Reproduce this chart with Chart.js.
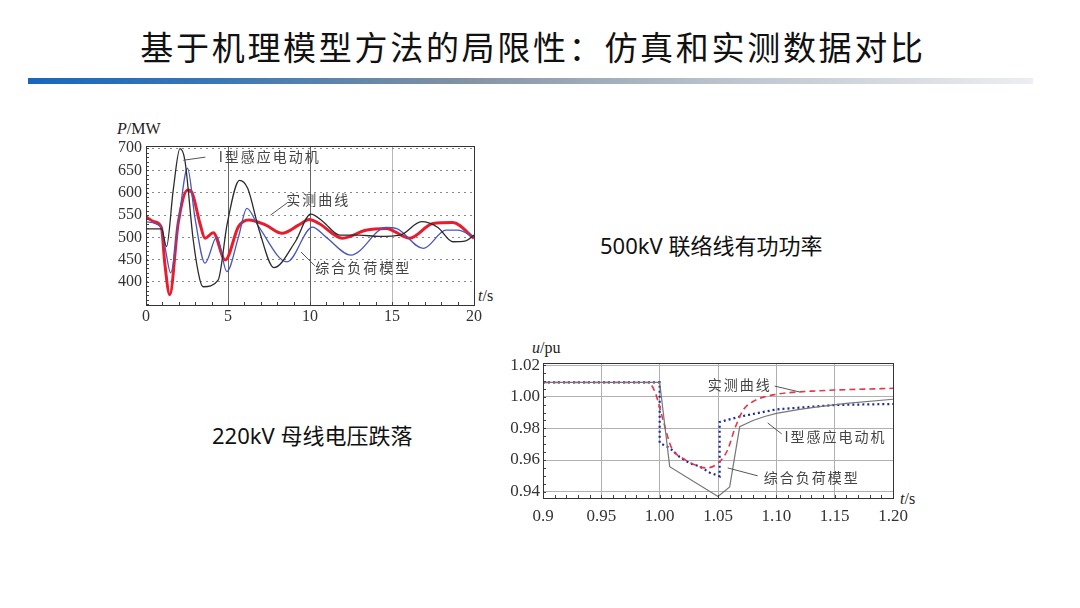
<!DOCTYPE html>
<html>
<head>
<meta charset="utf-8">
<script src="https://cdn.jsdelivr.net/npm/chart.js@4"></script>
<style>
  body { margin: 0; width: 1080px; height: 608px; background: #fff; position: relative; overflow: hidden; }
  .abs { position: absolute; }
  #title { left: 0; width: 1066px; top: 22px; text-align: center; font-family: "Noto Sans CJK SC", sans-serif; font-size: 33px; letter-spacing: 2.7px; color: #111; }
  #bar { left: 28px; top: 78px; width: 1005px; height: 6px;
    background: linear-gradient(to right, #1867bd 0%, #3877b6 18%, #7f90a3 42%, #b9c2cc 68%, #eceef1 100%); }
  .cap { font-family: "Noto Sans", "Noto Sans CJK SC", sans-serif; font-size: 22px; color: #111; }
  .unit { font-family: "Liberation Serif", serif; font-size: 16px; color: #222; }
  .box { position: absolute; }
</style>
</head>
<body>
<div id="title" class="abs">基于机理模型方法的局限性：仿真和实测数据对比</div>
<div id="bar" class="abs"></div>

<div class="abs cap" style="left:600px; top:228px;">500kV 联络线有功功率</div>
<div class="abs cap" style="left:212px; top:418px;">220kV 母线电压跌落</div>

<div class="abs unit" style="left:117px; top:120px;"><i>P</i>/MW</div>
<div class="abs unit" style="left:478px; top:287px;"><i>t</i>/s</div>
<div class="abs unit" style="left:532px; top:339px;"><i>u</i>/pu</div>
<div class="abs unit" style="left:900px; top:490px;"><i>t</i>/s</div>

<div class="box" style="left:100px; top:120px; width:400px; height:210px;"><canvas id="powerChart"></canvas></div>
<div class="box" style="left:495px; top:340px; width:430px; height:190px;"><canvas id="voltChart"></canvas></div>

<script>
// ---- 500kV 联络线有功功率 (P/MW vs t/s) ----
const motorT = [0, 0.95, 1.25, 1.66, 2.07, 2.37, 2.88, 3.29, 3.5, 4.4, 4.95, 5.7, 6.2, 6.9, 7.8, 9.1, 10.05, 10.8, 11.8, 13.0, 14.2, 15.5, 16.8, 17.8, 18.7, 19.5, 20];
const motorP = [519, 519, 479, 606, 699, 673, 494, 404, 389, 404, 530, 628, 610, 516, 432, 490, 552, 535, 505, 505, 502, 505, 535, 522, 490, 492, 505];

const loadT = [0, 0.94, 1.2, 1.5, 2.0, 2.53, 3.0, 3.6, 4.32, 4.93, 5.64, 6.15, 6.87, 8.6, 10.15, 10.96, 12.5, 14.64, 15.25, 16.9, 18.3, 19.0, 20];
const loadP = [535, 522, 470, 420, 540, 655, 540, 442, 501, 423, 501, 565, 524, 445, 523, 501, 460, 522, 520, 475, 516, 516, 500];

const measT = [0, 0.5, 0.94, 1.15, 1.45, 1.96, 2.54, 2.78, 3.29, 3.6, 4.1, 4.83, 5.64, 6.26, 7.28, 8.3, 9.33, 9.95, 10.55, 11.98, 13.4, 14.64, 16.07, 17.5, 18.7, 20];
const measP = [546, 535, 522, 440, 371, 531, 606, 602, 531, 498, 510, 449, 524, 539, 528, 509, 528, 540, 531, 498, 516, 520, 498, 531, 533, 498];

const powerTicksY = [400, 450, 500, 550, 600, 650, 700];
const powerTicksX = [0, 5, 10, 15, 20];

// ---- 220kV 母线电压跌落 (u/pu vs t/s) ----
const vMeasT = [0.9, 0.99, 0.996, 1.003, 1.01, 1.02, 1.03, 1.04, 1.05, 1.058, 1.065, 1.072, 1.08, 1.09, 1.10, 1.11, 1.13, 1.15, 1.2];
const vMeasU = [1.009, 1.009, 1.003, 0.985, 0.968, 0.961, 0.957, 0.955, 0.958, 0.966, 0.981, 0.992, 0.997, 1.000, 1.0015, 1.0025, 1.0035, 1.0042, 1.0053];

const vMotorT = [0.9, 1.0, 1.0086, 1.05, 1.06, 1.0686, 1.08, 1.09, 1.10, 1.12, 1.137, 1.16, 1.20];
const vMotorU = [1.009, 1.009, 0.9558, 0.937, 0.943, 0.981, 0.985, 0.9875, 0.9895, 0.992, 0.9937, 0.9958, 0.9984];

const vLoadT = [0.9, 1.0, 1.0, 1.0086, 1.017, 1.0257, 1.034, 1.043, 1.0514, 1.0514, 1.0686, 1.1, 1.151, 1.2];
const vLoadU = [1.009, 1.009, 0.9708, 0.9676, 0.962, 0.958, 0.956, 0.952, 0.9497, 0.984, 0.9874, 0.992, 0.9948, 0.9954];

const voltTicksY = [0.94, 0.95, 0.96, 0.97, 0.98, 0.99, 1.00, 1.01, 1.02];
const voltTicksX = [0.9, 0.95, 1.0, 1.05, 1.1, 1.15, 1.2];
const voltLabelsX = ['0.9', '0.95', '1.00', '1.05', '1.10', '1.15', '1.20'];

function pts(ts, vs) {
  return ts.map((t, i) => ({ x: t, y: vs[i] }));
}

Chart.defaults.font.family = "'Liberation Serif', serif";
Chart.defaults.font.size = 16;
Chart.defaults.color = '#333';

// frame, minor ticks and the curve labels with leader lines
const overlay = {
  id: 'overlay',
  afterDatasetsDraw(chart, args, opts) {
    const ctx = chart.ctx;
    const a = chart.chartArea;
    const xs = chart.scales.x, ys = chart.scales.y;
    ctx.save();
    ctx.strokeStyle = '#444';
    ctx.lineWidth = 1;
    // minor ticks on the left and bottom
    ctx.beginPath();
    for (let v = ys.min; v <= ys.max; v += opts.minorY) {
      const yy = Math.round(ys.getPixelForValue(Math.round(v / opts.minorY) * opts.minorY)) + 0.5;
      if (yy < a.top || yy > a.bottom) continue;
      ctx.moveTo(a.left, yy);
      ctx.lineTo(a.left + 3, yy);
    }
    for (let v = xs.min; v <= xs.max + 1e-9; v += opts.minorX) {
      const xx = Math.round(xs.getPixelForValue(v)) + 0.5;
      ctx.moveTo(xx, a.bottom);
      ctx.lineTo(xx, a.bottom - 3);
    }
    ctx.stroke();
    ctx.strokeStyle = '#333';
    ctx.strokeRect(a.left + 0.5, a.top + 0.5, a.right - a.left, a.bottom - a.top);

    ctx.font = opts.labelFont;
    ctx.letterSpacing = '2px';
    ctx.fillStyle = '#444';
    ctx.textAlign = 'center';
    ctx.textBaseline = 'middle';
    opts.labels.forEach(l => {
      ctx.fillText(l.text, xs.getPixelForValue(l.x), ys.getPixelForValue(l.y));
      ctx.beginPath();
      ctx.strokeStyle = '#555';
      ctx.moveTo(xs.getPixelForValue(l.line[0]), ys.getPixelForValue(l.line[1]));
      ctx.lineTo(xs.getPixelForValue(l.line[2]), ys.getPixelForValue(l.line[3]));
      ctx.stroke();
    });
    ctx.restore();
  }
};

new Chart(document.getElementById('powerChart'), {
  type: 'line',
  data: {
    datasets: [
      { label: 'I型感应电动机', data: pts(motorT, motorP), borderColor: '#2b2b2b', borderWidth: 1.3, cubicInterpolationMode: 'monotone' },
      { label: '综合负荷模型', data: pts(loadT, loadP), borderColor: '#4a56b8', borderWidth: 1.3, cubicInterpolationMode: 'monotone' },
      { label: '实测曲线', data: pts(measT, measP), borderColor: '#e81c2c', borderWidth: 3, cubicInterpolationMode: 'monotone' }
    ]
  },
  options: {
    responsive: true,
    maintainAspectRatio: false,
    animation: false,
    elements: { point: { radius: 0 } },
    layout: { padding: { left: 6, right: 26, top: 26, bottom: 0 } },
    scales: {
      x: {
        type: 'linear', min: 0, max: 20,
        afterBuildTicks: s => { s.ticks = powerTicksX.map(v => ({ value: v })); },
        afterFit: s => { s.height = 25; },
        ticks: { padding: 2, maxRotation: 0 },
        grid: { drawTicks: false, color: c => c.tick && (c.tick.value === 10 || c.tick.value === 5) ? '#666' : '#b8b8b8' },
        border: { display: false }
      },
      y: {
        min: 348, max: 705,
        afterBuildTicks: s => { s.ticks = powerTicksY.map(v => ({ value: v })); },
        afterFit: s => { s.width = 40; },
        ticks: { padding: 4 },
        grid: { drawTicks: false, color: '#8a8a8a' },
        border: { display: false, dash: [2, 4] }
      }
    },
    plugins: {
      legend: { display: false },
      tooltip: { enabled: false },
      overlay: {
        minorX: 1, minorY: 10,
        labelFont: "14px 'Noto Sans CJK SC', sans-serif",
        labels: [
          { text: 'I型感应电动机', x: 7.55, y: 680, line: [2.27, 673, 3.62, 680] },
          { text: '实测曲线', x: 10.5, y: 585, line: [7.6, 550, 8.6, 577] },
          { text: '综合负荷模型', x: 13.25, y: 431, line: [9.45, 467, 10.3, 436] }
        ]
      }
    }
  },
  plugins: [overlay]
});

new Chart(document.getElementById('voltChart'), {
  type: 'line',
  data: {
    datasets: [
      { label: 'I型感应电动机', data: pts(vMotorT, vMotorU), borderColor: '#777', borderWidth: 1.2, tension: 0 },
      { label: '实测曲线', data: pts(vMeasT, vMeasU), borderColor: '#e2384a', borderWidth: 1.6, borderDash: [6, 4], cubicInterpolationMode: 'monotone' },
      { label: '综合负荷模型', data: pts(vLoadT, vLoadU), borderColor: '#1c2a9e', borderWidth: 2.2, borderDash: [2, 3], tension: 0 }
    ]
  },
  options: {
    responsive: true,
    maintainAspectRatio: false,
    animation: false,
    elements: { point: { radius: 0 } },
    layout: { padding: { left: 3, right: 32, top: 23, bottom: 0 } },
    scales: {
      x: {
        type: 'linear', min: 0.9, max: 1.2,
        afterBuildTicks: s => { s.ticks = voltTicksX.map(v => ({ value: v })); },
        afterFit: s => { s.height = 32; },
        ticks: { padding: 8, maxRotation: 0, font: { size: 17 }, callback: (v, i) => voltLabelsX[i] },
        grid: { drawTicks: false, color: '#b0b0b0' },
        border: { display: false }
      },
      y: {
        min: 0.936, max: 1.0213,
        afterBuildTicks: s => { s.ticks = voltTicksY.map(v => ({ value: v })); },
        afterFit: s => { s.width = 45; },
        ticks: { padding: 3, font: { size: 17 }, callback: (v, i) => i % 2 === 0 ? voltTicksY[i].toFixed(2) : '' },
        grid: { drawTicks: false, color: '#b0b0b0' },
        border: { display: false }
      }
    },
    plugins: {
      legend: { display: false },
      tooltip: { enabled: false },
      overlay: {
        minorX: 0.01, minorY: 0.005,
        labelFont: "14px 'Noto Sans CJK SC', sans-serif",
        labels: [
          { text: '实测曲线', x: 1.0686, y: 1.0074, line: [1.0986, 1.0067, 1.1199, 1.003] },
          { text: 'I型感应电动机', x: 1.1507, y: 0.9746, line: [1.0926, 0.9834, 1.1046, 0.9765] },
          { text: '综合负荷模型', x: 1.1303, y: 0.9487, line: [1.0583, 0.955, 1.084, 0.950] }
        ]
      }
    }
  },
  plugins: [overlay]
});
</script>
</body>
</html>
